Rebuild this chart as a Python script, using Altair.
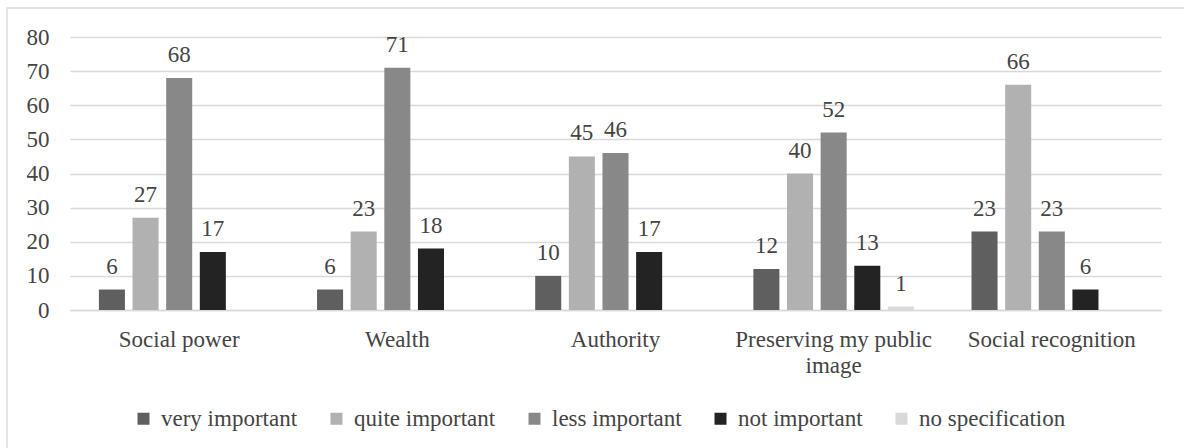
import altair as alt
import pandas as pd

# Survey answers: how important each value is to respondents
categories = [
    "Social power",
    "Wealth",
    "Authority",
    "Preserving my public image",
    "Social recognition",
]
levels = [
    "very important",
    "quite important",
    "less important",
    "not important",
    "no specification",
]
very_important = [6, 6, 10, 12, 23]
quite_important = [27, 23, 45, 40, 66]
less_important = [68, 71, 46, 52, 23]
not_important = [17, 18, 17, 13, 6]
no_specification = [None, None, None, 1, None]

level_colors = ["#5f5f5f", "#b1b1b1", "#888888", "#232323", "#d9d9d9"]
y_ticks = [0, 10, 20, 30, 40, 50, 60, 70, 80]

rows = []
for level, series in zip(
    levels,
    [very_important, quite_important, less_important, not_important, no_specification],
):
    for cat, val in zip(categories, series):
        if val is not None:
            rows.append({"category": cat, "level": level, "count": val})
df = pd.DataFrame(rows)

FONT = "'Liberation Serif', 'Times New Roman', serif"
FS = 23
TEXT = "#444444"
GRID = "#d9d9d9"
PLOT_W, PLOT_H = 1091, 273

x_enc = alt.X(
    "category:N",
    sort=categories,
    title=None,
    scale=alt.Scale(paddingInner=0.229, paddingOuter=0.115),
    axis=alt.Axis(
        labelAngle=0,
        ticks=False,
        domainColor=GRID,
        domainWidth=1.3,
        labelPadding=18,
        labelLimit=400,
        labelLineHeight=26,
        labelExpr="datum.value == 'Preserving my public image' ? ['Preserving my public', 'image'] : datum.label",
    ),
)
xo_enc = alt.XOffset(
    "level:N",
    sort=levels,
    scale=alt.Scale(domain=levels, paddingInner=0.226, paddingOuter=0.113),
)
y_enc = alt.Y(
    "count:Q",
    title=None,
    scale=alt.Scale(domain=[0, 80], nice=False),
    axis=alt.Axis(
        values=y_ticks,
        ticks=False,
        domain=False,
        gridColor=GRID,
        gridWidth=1.3,
        labelPadding=21,
    ),
)

bars = alt.Chart(df).mark_bar().encode(
    x=x_enc,
    xOffset=xo_enc,
    y=y_enc,
    color=alt.Color(
        "level:N",
        sort=levels,
        scale=alt.Scale(domain=levels, range=level_colors),
        legend=alt.Legend(
            title=None,
            orient="none",
            direction="horizontal",
            legendX=62,
            legendY=370,
            padding=0,
            symbolType="square",
            symbolSize=144,
            symbolStrokeWidth=0,
            symbolOpacity=1,
            labelOffset=6,
            columnPadding=27,
            labelFontSize=FS,
            labelFont=FONT,
            labelColor=TEXT,
            labelLimit=400,
        ),
    ),
)

labels = alt.Chart(df).mark_text(
    baseline="alphabetic", dy=-16, font=FONT, fontSize=FS, color=TEXT
).encode(x=x_enc, xOffset=xo_enc, y=y_enc, text="count:Q")

frame = alt.Chart(pd.DataFrame({"k": [0]})).mark_rect(
    fillOpacity=0, stroke=GRID, strokeWidth=1.3
).encode(
    x=alt.value(-63), x2=alt.value(PLOT_W + 60), y=alt.value(-29), y2=alt.value(PLOT_H + 200)
)

chart = (
    alt.layer(frame, bars, labels)
    .properties(
        width=PLOT_W,
        height=PLOT_H,
        autosize=alt.AutoSizeParams(type="none"),
        padding={"left": 70, "top": 37, "right": 1184 - 70 - PLOT_W, "bottom": 448 - 37 - PLOT_H},
        background="white",
    )
    .configure_view(strokeWidth=0)
    .configure_axis(labelFont=FONT, labelFontSize=FS, labelColor=TEXT)
)

chart.save("out.html", embed_options={"renderer": "svg", "actions": False})
